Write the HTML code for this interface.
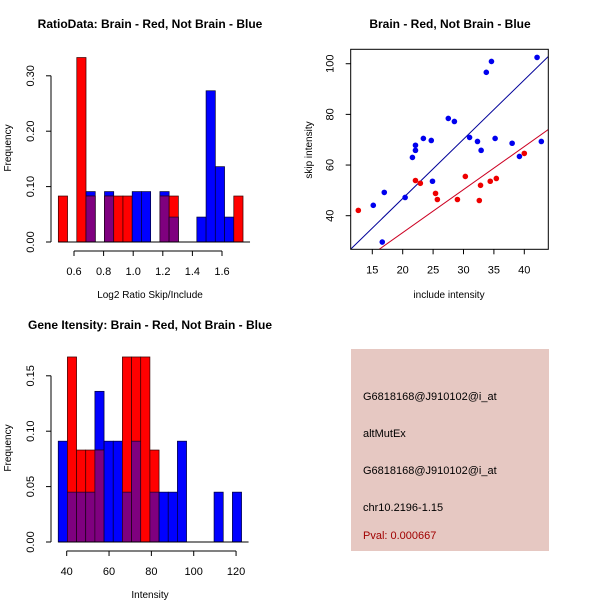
<!DOCTYPE html>
<html><head><meta charset="utf-8"><style>
html,body{margin:0;padding:0;background:#fff}
svg{display:block;font-family:"Liberation Sans",sans-serif}
</style></head><body>
<svg id="c" width="600" height="600" xmlns="http://www.w3.org/2000/svg">
<rect width="600" height="600" fill="#fff"/>
<g id="p1"></g>
<g id="p2"></g>
<g id="p3"></g>
<g>
<rect x="351" y="349" width="198" height="202" fill="#e6c8c2"/>
<text x="363" y="400" font-size="11" fill="#000">G6818168@J910102@i_at</text>
<text x="363" y="437" font-size="11" fill="#000">altMutEx</text>
<text x="363" y="474" font-size="11" fill="#000">G6818168@J910102@i_at</text>
<text x="363" y="511" font-size="11" fill="#000">chr10.2196-1.15</text>
<text x="363" y="539" font-size="11" fill="#a00000">Pval: 0.000667</text>
</g>
</svg>
<script>
// ---- Panel 1 data: Log2 ratio histogram ----
const ratioBinStart = 0.494;
const ratioBinWidth = 0.0624;
const ratioRed  = [0.083,0,0.333,0.083,0,0.083,0.083,0.083,0,0,0,0.083,0.083,0,0,0,0,0,0,0.083];
const ratioBlue = [0,0,0,0.091,0,0.091,0,0,0.091,0.091,0,0.091,0.045,0,0,0.045,0.273,0.136,0.045,0];
const ratioXTicks = [0.6,0.8,1.0,1.2,1.4,1.6];
const ratioYTicks = [0,0.1,0.2,0.3];
// ---- Panel 3 data: Gene intensity histogram ----
const intBinStart = 36.0;
const intBinWidth = 4.33;
const intRed  = [0,0.167,0.083,0.083,0.083,0,0,0.167,0.167,0.167,0.083,0,0,0,0,0,0,0,0,0];
const intBlue = [0.091,0.045,0.045,0.045,0.136,0.091,0.091,0.045,0.091,0,0.045,0.045,0.045,0.091,0,0,0,0.045,0,0.045];
const intXTicks = [40,60,80,100,120];
const intYTicks = [0,0.05,0.10,0.15];
// ---- Panel 2 data: scatter ----
const blueInclude = [15.16,16.97,16.64,20.4,21.6,22.1,22.1,23.4,24.7,24.9,27.5,28.5,31.0,32.3,32.9,33.75,34.6,35.2,38.0,39.2,42.1,42.8];
const blueSkip    = [44.1,49.2,29.6,47.2,63.0,65.8,67.8,70.5,69.7,53.6,78.4,77.2,70.9,69.3,65.8,96.6,100.9,70.5,68.6,63.4,102.5,69.3];
const redInclude  = [12.7,22.1,22.9,25.4,25.7,29.0,30.3,32.6,32.8,34.4,35.4,40.0];
const redSkip     = [42.1,53.9,52.8,48.8,46.4,46.4,55.5,46.0,52.0,53.6,54.7,64.6];
const blueFit = [0, 2.34];   // intercept, slope
const redFit  = [-0.7, 1.70];
const scatXTicks = [15,20,25,30,35,40];
const scatYTicks = [40,60,80,100];

const NS="http://www.w3.org/2000/svg";
function mk(parent,tag,attrs,name){
  const e=document.createElementNS(NS,tag);
  for(const k in attrs) e.setAttribute(k,attrs[k]);
  
  
  parent.appendChild(e);return e;
}
function txt(parent,x,y,s,opts,name){
  const t=mk(parent,'text',Object.assign({x:x,y:y,'font-size':11,fill:'#000'},opts||{}),name);
  t.textContent=s;return t;
}
function fmt(v,d){return v.toFixed(d);}

function histogram(g,o){
  const sx=v=>o.x0px+(v-o.x0)*o.kx;
  const sy=v=>o.y0px-v*o.ky;
  txt(g,o.titleX,o.titleY,o.title,{'font-weight':'bold','font-size':12,'text-anchor':'middle'},'chart-title');
  for(let i=0;i<o.red.length;i++){
    const a=sx(o.start+i*o.w), b=sx(o.start+(i+1)*o.w);
    const r=o.red[i], bl=o.blue[i];
    if(bl>0){mk(g,'rect',{x:a,y:sy(bl),width:b-a,height:sy(0)-sy(bl),fill:'#0000ff',stroke:'#000033','stroke-width':0.7},'bar-blue-'+i);}
    if(r>0){mk(g,'rect',{x:a,y:sy(r),width:b-a,height:sy(0)-sy(r),fill:'#ff0000',stroke:'#330000','stroke-width':0.7},'bar-red-'+i);}
    const m=Math.min(r,bl);
    if(m>0){mk(g,'rect',{x:a,y:sy(m),width:b-a,height:sy(0)-sy(m),fill:'#7f007f',stroke:'#200020','stroke-width':0.7},'bar-overlap-'+i);}
  }
  mk(g,'line',{x1:sx(o.start),x2:sx(o.start+o.red.length*o.w)+7,y1:sy(0),y2:sy(0),stroke:'#000'},'baseline');
  const xt=o.xticks;
  mk(g,'line',{x1:sx(xt[0]),x2:sx(xt[xt.length-1]),y1:o.xAxisY,y2:o.xAxisY,stroke:'#000'},'x-axis-line');
  xt.forEach((v,i)=>{
    mk(g,'line',{x1:sx(v),x2:sx(v),y1:o.xAxisY,y2:o.xAxisY+5,stroke:'#000'},'x-tick');
    txt(g,sx(v),o.xAxisY+24,o.xfmt(v),{'text-anchor':'middle'},'x-tick-label');
  });
  const yt=o.yticks;
  mk(g,'line',{x1:o.yAxisX,x2:o.yAxisX,y1:sy(yt[0]),y2:sy(yt[yt.length-1]),stroke:'#000'},'y-axis-line');
  yt.forEach(v=>{
    mk(g,'line',{x1:o.yAxisX-5,x2:o.yAxisX,y1:sy(v),y2:sy(v),stroke:'#000'},'y-tick');
    txt(g,0,0,o.yfmt(v),{'text-anchor':'middle',transform:`translate(${o.yAxisX-17},${sy(v)}) rotate(-90)`},'y-tick-label');
  });
  txt(g,0,0,'Frequency',{'font-size':10,'text-anchor':'middle',transform:`translate(11,${o.ylabY}) rotate(-90)`},'y-axis-title');
  txt(g,o.xlabX,o.xlabY,o.xlab,{'font-size':10,'text-anchor':'middle'},'x-axis-title');
}

histogram(document.getElementById('p1'),{
  title:'RatioData: Brain - Red, Not Brain - Blue',titleX:150,titleY:28,
  red:ratioRed,blue:ratioBlue,start:ratioBinStart,w:ratioBinWidth,
  x0:0.6,x0px:74,kx:148,y0px:242,ky:554,
  xticks:ratioXTicks,yticks:ratioYTicks,xAxisY:251,yAxisX:51,
  xfmt:v=>fmt(v,1),yfmt:v=>fmt(v,2),
  xlab:'Log2 Ratio Skip/Include',xlabX:150,xlabY:298,ylabY:148
});
histogram(document.getElementById('p3'),{
  title:'Gene Itensity: Brain - Red, Not Brain - Blue',titleX:150,titleY:329,
  red:intRed,blue:intBlue,start:intBinStart,w:intBinWidth,
  x0:40,x0px:66.7,kx:2.117,y0px:542,ky:1108,
  xticks:intXTicks,yticks:intYTicks,xAxisY:551,yAxisX:51,
  xfmt:v=>String(v),yfmt:v=>fmt(v,2),
  xlab:'Intensity',xlabX:150,xlabY:598,ylabY:448
});

(function(){
  const g=document.getElementById('p2');
  const sx=v=>372.3+(v-15)*6.08;
  const sy=v=>215.7-(v-40)*2.533;
  const L=350.7,R=548.3,T=49.3,B=249.3;
  txt(g,450,28,'Brain - Red, Not Brain - Blue',{'font-weight':'bold','font-size':12,'text-anchor':'middle'},'chart-title');
  const cp=mk(g,'clipPath',{id:'clipS'},'plot-clip');
  mk(cp,'rect',{x:L,y:T,width:R-L,height:B-T},'plot-clip-rect');
  const xmin=(L-372.3)/6.08+15, xmax=(R-372.3)/6.08+15;
  [[redFit,'#cc0022','red-fit-line'],[blueFit,'#000099','blue-fit-line']].forEach(([f,c,n])=>{
    mk(g,'line',{x1:sx(xmin),y1:sy(f[0]+f[1]*xmin),x2:sx(xmax),y2:sy(f[0]+f[1]*xmax),stroke:c,'stroke-width':1,'clip-path':'url(#clipS)'},n);
  });
  blueInclude.forEach((v,i)=>mk(g,'circle',{cx:sx(v),cy:sy(blueSkip[i]),r:2.8,fill:'#0000ee'},'point-blue'));
  redInclude.forEach((v,i)=>mk(g,'circle',{cx:sx(v),cy:sy(redSkip[i]),r:2.8,fill:'#ee0000'},'point-red'));
  mk(g,'rect',{x:L,y:T,width:R-L,height:B-T,fill:'none',stroke:'#000'},'plot-box');
  scatXTicks.forEach(v=>{
    mk(g,'line',{x1:sx(v),x2:sx(v),y1:B,y2:B+5,stroke:'#000'},'x-tick');
    txt(g,sx(v),B+24,String(v),{'text-anchor':'middle'},'x-tick-label');
  });
  scatYTicks.forEach(v=>{
    mk(g,'line',{x1:L-5,x2:L,y1:sy(v),y2:sy(v),stroke:'#000'},'y-tick');
    txt(g,0,0,String(v),{'text-anchor':'middle',transform:`translate(${L-17},${sy(v)}) rotate(-90)`},'y-tick-label');
  });
  txt(g,449,298,'include intensity',{'font-size':10,'text-anchor':'middle'},'x-axis-title');
  txt(g,0,0,'skip intensity',{'font-size':10,'text-anchor':'middle',transform:`translate(312,150) rotate(-90)`},'y-axis-title');
})();
</script>
</body></html>
